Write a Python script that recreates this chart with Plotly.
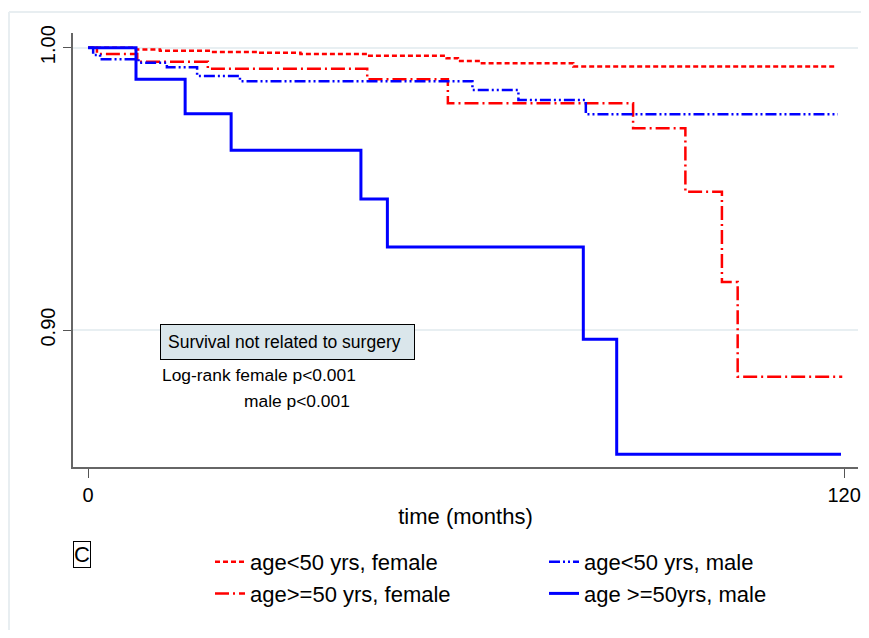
import plotly.graph_objects as go

# ---- data (Kaplan-Meier step functions) ----
t_f_young = [0, 7.6, 11.4, 19.6, 26.8, 33.7, 44.4, 56.9, 58.7, 62.5, 77.0, 118.9]
s_f_young = [1.0, 0.9994, 0.9989, 0.9985, 0.9982, 0.9978, 0.9971, 0.9963, 0.9953, 0.9945, 0.9933, 0.9933]

t_f_old = [0, 1.4, 7.8, 19.0, 44.3, 57.1, 86.5, 94.8, 100.6, 103.1, 119.7]
s_f_old = [1.0, 0.9978, 0.9950, 0.9925, 0.9888, 0.9803, 0.9715, 0.9490, 0.9170, 0.8835, 0.8835]

t_m_young = [0, 0.8, 1.9, 8.0, 12.5, 17.3, 24.1, 61.0, 68.3, 79.0, 119.0]
s_m_young = [1.0, 0.9974, 0.9959, 0.9947, 0.9931, 0.9900, 0.9881, 0.9850, 0.9815, 0.9764, 0.9764]

t_m_old = [0, 7.6, 15.4, 22.7, 43.3, 47.5, 78.6, 83.9, 119.5]
s_m_old = [1.0, 0.9888, 0.9766, 0.9637, 0.9464, 0.9294, 0.8967, 0.8560, 0.8560]

names = ["age<50 yrs, female", "age>=50 yrs, female", "age<50 yrs, male", "age >=50yrs, male"]
x_ticks = [0, 120]
y_ticks = [0.90, 1.00]
y_ticktext = ["0.90", "1.00"]

FONT = "Liberation Sans, Arial, Helvetica, sans-serif"
RED = "#ff0000"
BLUE = "#0000ff"

fig = go.Figure()
fig.add_trace(go.Scatter(x=t_f_young, y=s_f_young, mode="lines", line_shape="hv", name=names[0],
                         line=dict(color=RED, width=2.5, dash="5px,3px"), legend="legend"))
fig.add_trace(go.Scatter(x=t_f_old, y=s_f_old, mode="lines", line_shape="hv", name=names[1],
                         line=dict(color=RED, width=2.5, dash="14px,4px,2px,4px"), legend="legend"))
fig.add_trace(go.Scatter(x=t_m_young, y=s_m_young, mode="lines", line_shape="hv", name=names[2],
                         line=dict(color=BLUE, width=2.5, dash="11px,3px,2px,3px,2px,3px"), legend="legend2"))
fig.add_trace(go.Scatter(x=t_m_old, y=s_m_old, mode="lines", line_shape="hv", name=names[3],
                         line=dict(color=BLUE, width=3), legend="legend2"))

# page has an 8px body margin, so the figure is shrunk and shifted accordingly
OFF = 8
W, H = 869 - 2 * OFF, 638 - 2 * OFF
L, T = 73 - OFF, 33 - OFF
R = W - (858 - OFF)
B = H - (467 - OFF)
pw, ph = W - L - R, H - T - B

def px(xs):
    return (xs - OFF - L) / pw

def py(ys):
    return (H - B - (ys - OFF)) / ph

leg_common = dict(orientation="v", yanchor="top", xanchor="left", font=dict(size=22, family=FONT),
                  bgcolor="rgba(0,0,0,0)", traceorder="normal", tracegroupgap=0)

fig.update_layout(
    width=W, height=H,
    margin=dict(l=L, r=R, t=T, b=B),
    paper_bgcolor="white", plot_bgcolor="white",
    font=dict(family=FONT, color="black", size=20),
    showlegend=True,
    legend=dict(x=px(210), y=py(541), **leg_common),
    legend2=dict(x=px(544), y=py(541), **leg_common),
    xaxis=dict(range=[-2.4, 122.2], tickvals=x_ticks, ticks="outside", ticklen=9, tickcolor="#555",
               showline=True, linecolor="#666", linewidth=1.5, showgrid=False, zeroline=False,
               automargin=False, tickfont=dict(size=20),
               title=dict(text="time (months)", font=dict(size=22), standoff=4)),
    yaxis=dict(range=[0.8515, 1.0052], tickvals=y_ticks, ticktext=y_ticktext, ticks="outside",
               ticklen=8, tickcolor="#555", tickangle=-90, showline=True, linecolor="#666", linewidth=1.5,
               showgrid=True, gridcolor="#e8eff2", gridwidth=2, zeroline=False, automargin=False,
               tickfont=dict(size=20)),
)

# outer frame of graph region (only its top and left edges fall inside the picture)
frame = dict(color="#e8eef1", width=2)
fig.add_shape(type="line", xref="paper", yref="paper", x0=px(9), x1=px(900), y0=py(12), y1=py(12),
              line=frame, layer="below")
fig.add_shape(type="line", xref="paper", yref="paper", x0=px(9), x1=px(9), y0=py(12), y1=py(700),
              line=frame, layer="below")

fig.add_annotation(xref="paper", yref="paper", x=px(160), y=py(324), xanchor="left", yanchor="top",
                   text="Survival not related to surgery", showarrow=False, align="left",
                   font=dict(size=17.5), bgcolor="#dae6eb", bordercolor="black", borderwidth=1,
                   borderpad=7, width=239)
fig.add_annotation(xref="paper", yref="paper", x=px(160), y=py(375), xanchor="left", yanchor="middle",
                   text="Log-rank female p<0.001", showarrow=False, font=dict(size=17.4))
fig.add_annotation(xref="paper", yref="paper", x=px(242), y=py(401), xanchor="left", yanchor="middle",
                   text="male p<0.001", showarrow=False, font=dict(size=17.4))
fig.add_annotation(xref="paper", yref="paper", x=px(73), y=py(541), xanchor="left", yanchor="top",
                   text="C", showarrow=False, font=dict(size=22), bordercolor="black", borderwidth=1,
                   borderpad=0)

fig.write_html("out.html")
